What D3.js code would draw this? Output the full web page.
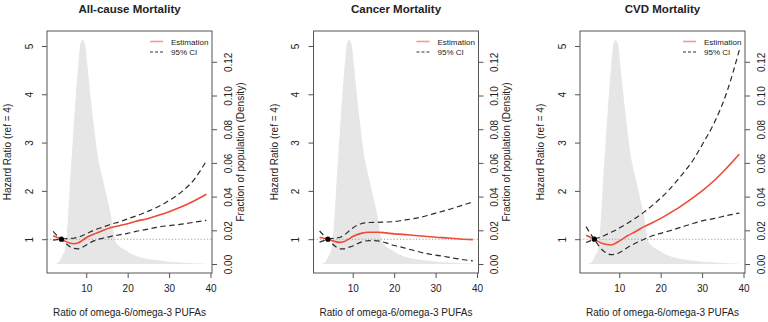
<!DOCTYPE html>
<html>
<head>
<meta charset="utf-8">
<script src="https://cdn.jsdelivr.net/npm/d3@7"></script>
<style>
  body { margin: 0; background: #fff; }
  svg text { font-family: "Liberation Sans", Arial, sans-serif; fill: #222; }
</style>
</head>
<body>
<div id="chart"></div>
<script>
var width = 768, height = 322

// shared x grid of the spline fits
var ratio = [2, 3, 4, 5, 6, 7, 8, 9, 10, 12, 14, 16, 18, 20, 22, 25, 28, 30, 33, 36, 39]

// All-cause
var allEst   = [1.07, 1.035, 1.0, 0.955, 0.92, 0.905, 0.92, 0.97, 1.03, 1.11, 1.18, 1.24, 1.28, 1.32, 1.37, 1.43, 1.51, 1.57, 1.67, 1.79, 1.93]
var allUpper = [0.98, 0.99, 1.0, 1.01, 1.015, 1.02, 1.04, 1.07, 1.11, 1.19, 1.25, 1.31, 1.36, 1.42, 1.48, 1.58, 1.70, 1.80, 1.98, 2.23, 2.62]
var allLower = [1.16, 1.07, 1.0, 0.92, 0.85, 0.81, 0.80, 0.83, 0.88, 0.97, 1.02, 1.06, 1.09, 1.12, 1.16, 1.21, 1.26, 1.28, 1.31, 1.35, 1.39]

// Cancer
var canEst   = [1.04, 1.02, 1.0, 0.97, 0.945, 0.935, 0.95, 1.0, 1.055, 1.12, 1.145, 1.145, 1.13, 1.11, 1.10, 1.076, 1.055, 1.04, 1.025, 1.005, 0.99]
var canUpper = [0.94, 0.97, 1.0, 1.015, 1.025, 1.04, 1.09, 1.16, 1.23, 1.32, 1.345, 1.35, 1.355, 1.365, 1.39, 1.43, 1.49, 1.54, 1.61, 1.69, 1.77]
var canLower = [1.17, 1.08, 1.0, 0.91, 0.84, 0.80, 0.80, 0.83, 0.86, 0.94, 0.97, 0.965, 0.925, 0.87, 0.83, 0.76, 0.70, 0.67, 0.63, 0.585, 0.55]

// CVD
var cvdEst   = [1.08, 1.04, 1.0, 0.95, 0.91, 0.89, 0.88, 0.91, 0.96, 1.07, 1.16, 1.26, 1.34, 1.43, 1.53, 1.69, 1.87, 2.0, 2.22, 2.48, 2.76]
var cvdUpper = [0.93, 0.965, 1.0, 1.03, 1.06, 1.10, 1.14, 1.18, 1.23, 1.33, 1.44, 1.56, 1.70, 1.85, 2.02, 2.32, 2.66, 2.95, 3.42, 4.05, 4.92]
var cvdLower = [1.26, 1.12, 1.0, 0.87, 0.77, 0.71, 0.68, 0.69, 0.72, 0.83, 0.92, 1.0, 1.07, 1.12, 1.17, 1.25, 1.33, 1.38, 1.43, 1.49, 1.54]

// population density of the ratio (same in every panel)
var densX = [2, 3, 3.7, 4.2, 4.8, 5.2, 5.6, 6.0, 6.55, 6.95, 7.5, 8.15, 8.55, 9.1, 9.76, 10.2, 11.0, 11.9, 12.6, 14.2, 16.0, 17.0, 18.0, 19.4, 21, 22.6, 25, 28.2, 32, 36, 39]
var densY = [0, 0.0005, 0.0024, 0.005, 0.0083, 0.015, 0.028, 0.045, 0.066, 0.081, 0.1005, 0.120, 0.130, 0.133, 0.130, 0.120, 0.1005, 0.081, 0.067, 0.048, 0.028, 0.0135, 0.0105, 0.0083, 0.006, 0.0043, 0.003, 0.002, 0.001, 0.0005, 0.0002]

var titles = ["All-cause Mortality", "Cancer Mortality", "CVD Mortality"]
var estSets = [allEst, canEst, cvdEst]
var upperSets = [allUpper, canUpper, cvdUpper]
var lowerSets = [allLower, canLower, cvdLower]

var hrTicks = [1, 2, 3, 4, 5]
var densTicks = [0, 0.02, 0.04, 0.06, 0.08, 0.10, 0.12]
var xTicks = [10, 20, 30, 40]
var refX = 4, refHR = 1

var panelStep = 266.5
var margin = {left: 47, right: 212, top: 31, bottom: 273}

var svg = d3.select("#chart")
  .append("svg")
    .attr("width", width)
    .attr("height", height)

var x = d3.scaleLinear().domain([0.53, 40.36]).range([margin.left, margin.right])
var y = d3.scaleLinear().domain([0.30, 5.31]).range([margin.bottom, margin.top])
var yDens = d3.scaleLinear().domain([0, 0.12]).range([264, 61.8])

var redCol = "#EF4a36"

titles.forEach(function(title, i) {
  var g = svg.append("g").attr("transform", `translate(${i * panelStep},0)`)

  // density area
  var area = d3.area()
    .x(function(d, j) { return x(densX[j]) })
    .y0(yDens(0))
    .y1(function(d) { return yDens(d) })
    .curve(d3.curveMonotoneX)
  g.append("path")
    .attr("d", area(densY))
    .attr("fill", "#e6e6e6")

  // reference line HR = 1
  g.append("line")
    .attr("x1", margin.left).attr("x2", margin.right)
    .attr("y1", y(1)).attr("y2", y(1))
    .attr("stroke", "#a0a0a0")
    .attr("stroke-width", 1.1)
    .attr("stroke-dasharray", "1.2,2")

  var line = d3.line()
    .x(function(d, j) { return x(ratio[j]) })
    .y(function(d) { return y(d) })
    .curve(d3.curveMonotoneX)

  ;[upperSets[i], lowerSets[i]].forEach(function(s) {
    g.append("path")
      .attr("d", line(s))
      .attr("fill", "none")
      .attr("stroke", "#2b2b2b")
      .attr("stroke-width", 1.2)
      .attr("stroke-dasharray", "5.5,3.5")
  })

  g.append("path")
    .attr("d", line(estSets[i]))
    .attr("fill", "none")
    .attr("stroke", redCol)
    .attr("stroke-width", 1.6)

  g.append("circle")
    .attr("cx", x(refX)).attr("cy", y(refHR))
    .attr("r", 2.6)
    .attr("fill", "#000")

  // box
  g.append("rect")
    .attr("x", margin.left).attr("y", margin.top)
    .attr("width", margin.right - margin.left)
    .attr("height", margin.bottom - margin.top)
    .attr("fill", "none")
    .attr("stroke", "#555")
    .attr("stroke-width", 1)

  // bottom axis
  var xAxis = g.append("g")
    .attr("transform", `translate(0,${margin.bottom})`)
    .call(d3.axisBottom(x).tickValues(xTicks).tickSize(5).tickPadding(7))
  xAxis.select(".domain").remove()
  xAxis.selectAll("line").attr("stroke", "#555")
  xAxis.selectAll("text").style("font-size", "10px").attr("fill", "#222")

  // left axis, labels parallel to axis
  var yAxis = g.append("g")
    .attr("transform", `translate(${margin.left},0)`)
    .call(d3.axisLeft(y).tickValues(hrTicks).tickSize(5).tickFormat(d3.format("d")))
  yAxis.select(".domain").remove()
  yAxis.selectAll("line").attr("stroke", "#555")
  yAxis.selectAll("text")
    .attr("x", null).attr("dy", null)
    .attr("transform", "translate(-14.5,0) rotate(-90)")
    .attr("text-anchor", "middle")
    .style("font-size", "10px").attr("fill", "#222")

  // right axis for density
  var rAxis = g.append("g")
    .attr("transform", `translate(${margin.right},0)`)
    .call(d3.axisRight(yDens).tickValues(densTicks).tickSize(5).tickFormat(d3.format(".2f")))
  rAxis.select(".domain").remove()
  rAxis.selectAll("line").attr("stroke", "#555")
  rAxis.selectAll("text")
    .attr("x", null).attr("dy", null)
    .attr("transform", "translate(19.5,0) rotate(-90)")
    .attr("text-anchor", "middle")
    .style("font-size", "10px").attr("fill", "#222")

  // title and labels
  g.append("text")
    .attr("x", (margin.left + margin.right) / 2)
    .attr("y", 13)
    .attr("text-anchor", "middle")
    .style("font-size", "11.5px")
    .style("font-weight", "bold")
    .text(title)

  g.append("text")
    .attr("x", (margin.left + margin.right) / 2)
    .attr("y", 316)
    .attr("text-anchor", "middle")
    .style("font-size", "10px")
    .text("Ratio of omega-6/omega-3 PUFAs")

  g.append("text")
    .attr("transform", `translate(11,${(margin.top + margin.bottom) / 2}) rotate(-90)`)
    .attr("text-anchor", "middle")
    .style("font-size", "10px")
    .text("Hazard Ratio (ref = 4)")

  if (i * panelStep + 246 < width) {
    g.append("text")
      .attr("transform", `translate(243.5,${(margin.top + margin.bottom) / 2}) rotate(-90)`)
      .attr("text-anchor", "middle")
      .style("font-size", "10px")
      .text("Fraction of population (Density)")
  }

  // legend
  var leg = g.append("g")
  leg.append("line")
    .attr("x1", 150).attr("x2", 163).attr("y1", 41.5).attr("y2", 41.5)
    .attr("stroke", "#f59a90").attr("stroke-width", 1.6)
  leg.append("line")
    .attr("x1", 150).attr("x2", 163).attr("y1", 52).attr("y2", 52)
    .attr("stroke", "#333").attr("stroke-width", 1)
    .attr("stroke-dasharray", "3,2")
  leg.append("text").attr("x", 171).attr("y", 44.5)
    .style("font-size", "8px").text("Estimation")
  leg.append("text").attr("x", 171).attr("y", 55)
    .style("font-size", "8px").text("95% CI")
})
</script>
</body>
</html>
